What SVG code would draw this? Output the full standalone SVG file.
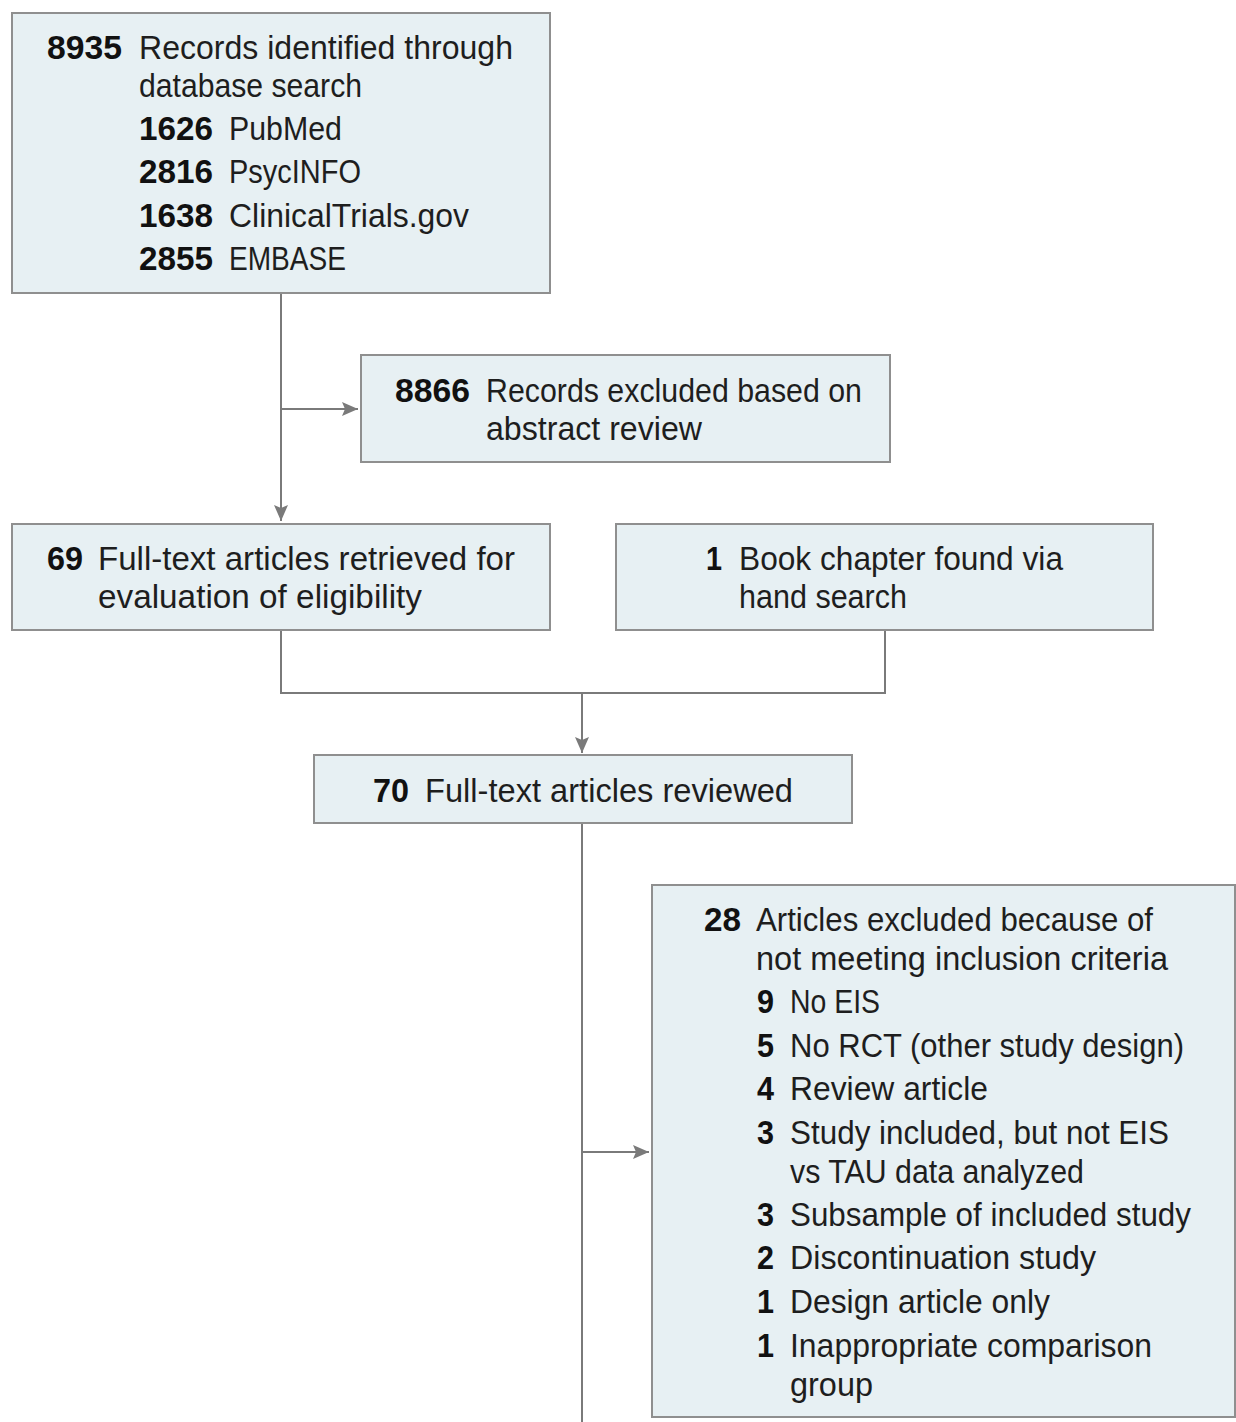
<svg xmlns="http://www.w3.org/2000/svg" width="1236" height="1422" viewBox="0 0 1236 1422">
<style>
.box{fill:#e7f0f3;stroke:#8f8f8f;stroke-width:2}
.t{font-family:"Liberation Sans",Arial,sans-serif;font-size:33px;fill:#1e1e1e}
.n{font-weight:bold;fill:#111}
.ln{fill:none;stroke:#7a7a7a;stroke-width:2}
</style>
<defs>
<marker id="a" viewBox="0 0 16 14" refX="16" refY="7" markerWidth="16" markerHeight="14" markerUnits="userSpaceOnUse" orient="auto">
<path d="M0,0 L16,7 L0,14 L3,7 z" fill="#7a7a7a"/>
</marker>
</defs>
<g id="connectors">
<path class="ln" d="M281,293 V521" marker-end="url(#a)"/>
<path class="ln" d="M281,409 H358" marker-end="url(#a)"/>
<path class="ln" d="M281,630 V693 H885 V630"/>
<path class="ln" d="M582,693 V753" marker-end="url(#a)"/>
<path class="ln" d="M582,823 V1422"/>
<path class="ln" d="M582,1152 H649" marker-end="url(#a)"/>
</g>
<g id="n1">
<rect class="box" x="12" y="13" width="538" height="280"/>
<text class="t n" x="47" y="59" textLength="75" lengthAdjust="spacingAndGlyphs">8935</text>
<text class="t" x="139" y="59" textLength="374" lengthAdjust="spacingAndGlyphs">Records identified through</text>
<text class="t" x="139" y="97" textLength="223" lengthAdjust="spacingAndGlyphs">database search</text>
<text class="t n" x="139" y="140" textLength="74" lengthAdjust="spacingAndGlyphs">1626</text>
<text class="t" x="229" y="140" textLength="113" lengthAdjust="spacingAndGlyphs">PubMed</text>
<text class="t n" x="139" y="183" textLength="74" lengthAdjust="spacingAndGlyphs">2816</text>
<text class="t" x="229" y="183" textLength="132" lengthAdjust="spacingAndGlyphs">PsycINFO</text>
<text class="t n" x="139" y="227" textLength="74" lengthAdjust="spacingAndGlyphs">1638</text>
<text class="t" x="229" y="227" textLength="240" lengthAdjust="spacingAndGlyphs">ClinicalTrials.gov</text>
<text class="t n" x="139" y="270" textLength="74" lengthAdjust="spacingAndGlyphs">2855</text>
<text class="t" x="229" y="270" textLength="117" lengthAdjust="spacingAndGlyphs">EMBASE</text>
</g>
<g id="n2">
<rect class="box" x="361" y="355" width="529" height="107"/>
<text class="t n" x="395" y="402" textLength="75" lengthAdjust="spacingAndGlyphs">8866</text>
<text class="t" x="486" y="402" textLength="376" lengthAdjust="spacingAndGlyphs">Records excluded based on</text>
<text class="t" x="486" y="440" textLength="216" lengthAdjust="spacingAndGlyphs">abstract review</text>
</g>
<g id="n3">
<rect class="box" x="12" y="524" width="538" height="106"/>
<text class="t n" x="47" y="570" textLength="36" lengthAdjust="spacingAndGlyphs">69</text>
<text class="t" x="98" y="570" textLength="417" lengthAdjust="spacingAndGlyphs">Full-text articles retrieved for</text>
<text class="t" x="98" y="608" textLength="324" lengthAdjust="spacingAndGlyphs">evaluation of eligibility</text>
</g>
<g id="n4">
<rect class="box" x="616" y="524" width="537" height="106"/>
<text class="t n" x="706" y="570" textLength="16" lengthAdjust="spacingAndGlyphs">1</text>
<text class="t" x="739" y="570" textLength="324" lengthAdjust="spacingAndGlyphs">Book chapter found via</text>
<text class="t" x="739" y="608" textLength="168" lengthAdjust="spacingAndGlyphs">hand search</text>
</g>
<g id="n5">
<rect class="box" x="314" y="755" width="538" height="68"/>
<text class="t n" x="373" y="802" textLength="36" lengthAdjust="spacingAndGlyphs">70</text>
<text class="t" x="425" y="802" textLength="368" lengthAdjust="spacingAndGlyphs">Full-text articles reviewed</text>
</g>
<g id="n6">
<rect class="box" x="652" y="885" width="583" height="532"/>
<text class="t n" x="704" y="931" textLength="37" lengthAdjust="spacingAndGlyphs">28</text>
<text class="t" x="756" y="931" textLength="397" lengthAdjust="spacingAndGlyphs">Articles excluded because of</text>
<text class="t" x="756" y="970" textLength="412" lengthAdjust="spacingAndGlyphs">not meeting inclusion criteria</text>
<text class="t n" x="757" y="1013" textLength="17" lengthAdjust="spacingAndGlyphs">9</text>
<text class="t" x="790" y="1013" textLength="90" lengthAdjust="spacingAndGlyphs">No EIS</text>
<text class="t n" x="757" y="1057" textLength="17" lengthAdjust="spacingAndGlyphs">5</text>
<text class="t" x="790" y="1057" textLength="394" lengthAdjust="spacingAndGlyphs">No RCT (other study design)</text>
<text class="t n" x="757" y="1100" textLength="17" lengthAdjust="spacingAndGlyphs">4</text>
<text class="t" x="790" y="1100" textLength="198" lengthAdjust="spacingAndGlyphs">Review article</text>
<text class="t n" x="757" y="1144" textLength="17" lengthAdjust="spacingAndGlyphs">3</text>
<text class="t" x="790" y="1144" textLength="379" lengthAdjust="spacingAndGlyphs">Study included, but not EIS</text>
<text class="t" x="790" y="1183" textLength="294" lengthAdjust="spacingAndGlyphs">vs TAU data analyzed</text>
<text class="t n" x="757" y="1226" textLength="17" lengthAdjust="spacingAndGlyphs">3</text>
<text class="t" x="790" y="1226" textLength="401" lengthAdjust="spacingAndGlyphs">Subsample of included study</text>
<text class="t n" x="757" y="1269" textLength="17" lengthAdjust="spacingAndGlyphs">2</text>
<text class="t" x="790" y="1269" textLength="306" lengthAdjust="spacingAndGlyphs">Discontinuation study</text>
<text class="t n" x="757" y="1313" textLength="17" lengthAdjust="spacingAndGlyphs">1</text>
<text class="t" x="790" y="1313" textLength="260" lengthAdjust="spacingAndGlyphs">Design article only</text>
<text class="t n" x="757" y="1357" textLength="17" lengthAdjust="spacingAndGlyphs">1</text>
<text class="t" x="790" y="1357" textLength="362" lengthAdjust="spacingAndGlyphs">Inappropriate comparison</text>
<text class="t" x="790" y="1396" textLength="83" lengthAdjust="spacingAndGlyphs">group</text>
</g>
</svg>
